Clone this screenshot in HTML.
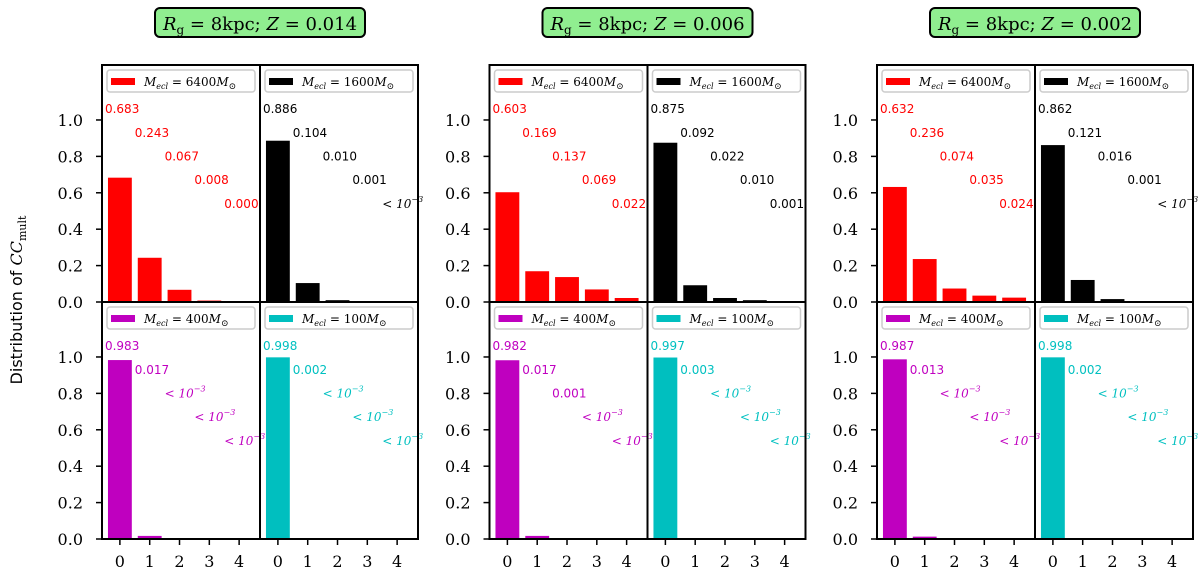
<!DOCTYPE html>
<html><head><meta charset="utf-8"><style>
body{margin:0;background:#fff;width:1200px;height:573px;overflow:hidden}
svg{display:block}
.tk{font-family:"DejaVu Serif","Liberation Serif",serif;font-size:16px}
.val{font-family:"DejaVu Sans","Liberation Sans",sans-serif;font-size:12px}
.lt{font-family:"DejaVu Serif","Liberation Serif",serif;font-size:12px;font-style:italic}
</style></head><body>
<svg id="chart" width="1200" height="573" xmlns="http://www.w3.org/2000/svg">
<text x="22" y="300" transform="rotate(-90 22 300)" text-anchor="middle" font-family="DejaVu Sans, Liberation Sans, sans-serif" font-size="16">Distribution of <tspan font-family="DejaVu Serif, Liberation Serif, serif" font-style="italic">CC</tspan><tspan font-family="DejaVu Serif, Liberation Serif, serif" font-size="11" dy="4">mult</tspan></text>
</svg>
<script>
const categories=[0,1,2,3,4];
const groupTitles=["0.014","0.006","0.002"];
const panelMasses=["6400","1600","400","100"];
const panelColors=["#ff0000","#000000","#bf00bf","#00bfbf"];
const textColors=["#ff0000","#000000","#c000c0","#00c0c0"];
const g1Red=[0.683,0.243,0.067,0.008,0.000];
const g1Black=[0.886,0.104,0.010,0.001,0.0002];
const g1Mag=[0.983,0.017,0.0002,0.0002,0.0002];
const g1Cyan=[0.998,0.002,0.0002,0.0002,0.0002];
const g2Red=[0.603,0.169,0.137,0.069,0.022];
const g2Black=[0.875,0.092,0.022,0.010,0.001];
const g2Mag=[0.982,0.017,0.001,0.0002,0.0002];
const g2Cyan=[0.997,0.003,0.0002,0.0002,0.0002];
const g3Red=[0.632,0.236,0.074,0.035,0.024];
const g3Black=[0.862,0.121,0.016,0.001,0.0002];
const g3Mag=[0.987,0.013,0.0002,0.0002,0.0002];
const g3Cyan=[0.998,0.002,0.0002,0.0002,0.0002];
const yTicks=[0,0.2,0.4,0.6,0.8,1.0];
const groups=[[g1Red,g1Black,g1Mag,g1Cyan],[g2Red,g2Black,g2Mag,g2Cyan],[g3Red,g3Black,g3Mag,g3Cyan]];

const svg=document.getElementById('chart');
const NS='http://www.w3.org/2000/svg';
function mk(tag,attrs,parent){const e=document.createElementNS(NS,tag);for(const k in attrs)e.setAttribute(k,attrs[k]);(parent||svg).appendChild(e);return e;}
const PW=158, PH=237, XMIN=-0.6, XMAX=4.7, YMAX=1.302;
function fmt(v,i,panel,gi){ if(gi===0&&panel===0&&i===4) return "0.000"; return v<0.001?null:v.toFixed(3);}
groups.forEach((g,gi)=>{
  const gx=102+gi*387.5, gy=65;
  const tb=mk('rect',{x:gx+53,y:8,width:210,height:29,rx:5,fill:'#90ee90',stroke:'#000','stroke-width':2});
  
  
  const tt=mk('text',{x:gx+158,y:30,'text-anchor':'middle','font-family':'DejaVu Serif, Liberation Serif, serif','font-size':18});
  
  
  tt.innerHTML='<tspan font-style="italic">R</tspan><tspan font-size="12" dy="4">g</tspan><tspan dy="-4"> = 8kpc; </tspan><tspan font-style="italic">Z</tspan> = '+groupTitles[gi];
  g.forEach((vals,p)=>{
    const px=gx+(p%2)*PW, py=gy+Math.floor(p/2)*PH;
    const xs=v=>px+(v-XMIN)/(XMAX-XMIN)*PW;
    const ys=v=>py+PH-v/YMAX*PH;
    const bw=0.8*PW/(XMAX-XMIN);
    vals.forEach((v,i)=>{
      const b=mk('rect',{x:xs(categories[i])-bw/2,y:ys(v),width:bw,height:ys(0)-ys(v),fill:panelColors[p]});
      
      
      const lab=fmt(v,i,p,gi);
      const t=mk('text',{x:xs(categories[i]-0.5),y:ys(1.065-0.13*i)+5,fill:textColors[p],class:lab?'val':'lt','font-size':lab?12:11});
      
      
      if(lab) t.textContent=lab; else t.innerHTML='&lt; 10<tspan font-size="8" dy="-6">−3</tspan>';
    });
    const lg=mk('rect',{x:px+5,y:py+5,width:PW-10,height:22,rx:3,fill:'#fff',stroke:'#ccc','stroke-width':1.5,'fill-opacity':0.8});
    
    
    const lp=mk('rect',{x:px+9,y:py+13,width:24,height:7,fill:panelColors[p]});
    
    
    const lt=mk('text',{x:px+42,y:py+21,class:'lt','font-size':13});
    
    
    lt.innerHTML='M<tspan font-size="8" dy="3">ecl</tspan><tspan dy="-3" font-style="normal"> = '+panelMasses[p]+'</tspan>M<tspan font-size="9" dy="3" font-style="normal">⊙</tspan>';
    const fr=mk('rect',{x:px,y:py,width:PW,height:PH,fill:'none',stroke:'#000','stroke-width':2});
    
    
    if(p%2===0){
      yTicks.forEach(t=>{
        mk('line',{x1:px-6,x2:px,y1:ys(t),y2:ys(t),stroke:'#000','stroke-width':1.5});
        const tl=mk('text',{x:px-19,y:ys(t)+6,'text-anchor':'end',class:'tk'});
        
        
        tl.textContent=t.toFixed(1);
      });
    }
    if(p>=2){
      categories.forEach(c=>{
        mk('line',{x1:xs(c),x2:xs(c),y1:py+PH,y2:py+PH+6,stroke:'#000','stroke-width':1.5});
        const tl=mk('text',{x:xs(c),y:py+PH+28,'text-anchor':'middle',class:'tk'});
        
        
        tl.textContent=c;
      });
    }
  });
});
</script>
</body></html>
